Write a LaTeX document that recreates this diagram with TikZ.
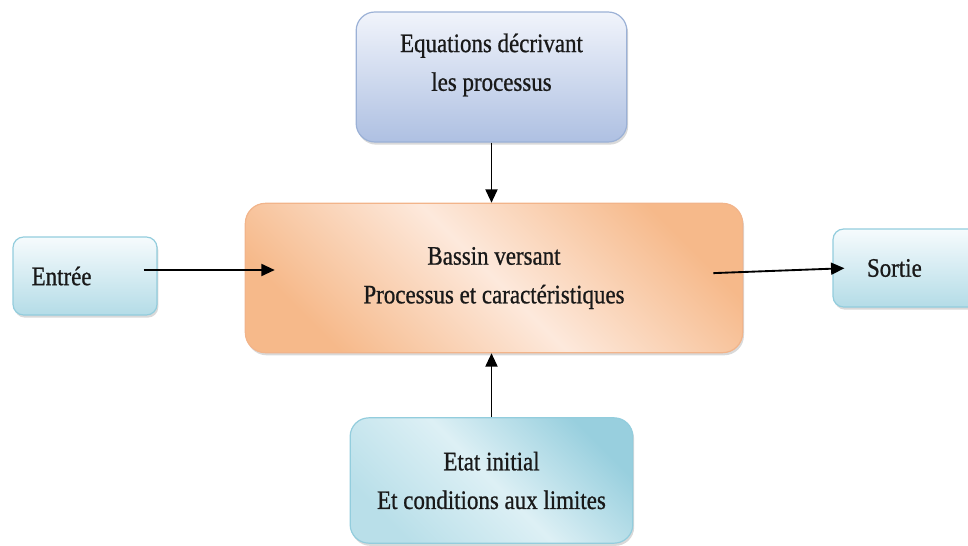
\documentclass[tikz,border=0pt]{standalone}
\usepackage{fontspec}
\setmainfont[FakeStretch=0.86, FakeBold=0.8]{Liberation Serif}
\usetikzlibrary{arrows.meta,shadows}

\definecolor{eqtop}{HTML}{F1F4FB}
\definecolor{eqbot}{HTML}{AEC0E2}
\definecolor{eqline}{HTML}{9BB1D6}
\definecolor{bvedge}{HTML}{F6B98A}
\definecolor{bvmid}{HTML}{FDE9DC}
\definecolor{bvline}{HTML}{F2B48A}
\definecolor{iotop}{HTML}{F6FBFD}
\definecolor{iobot}{HTML}{B4DCE7}
\definecolor{ioline}{HTML}{93CDDD}
\definecolor{cilight}{HTML}{B9DFE9}
\definecolor{cidark}{HTML}{98CFDE}
\definecolor{cimid}{HTML}{DDF0F5}

\tikzset{
  box/.style    = {shape=rectangle, draw, line width=0.9pt,
                   drop shadow={opacity=0.3, shadow xshift=1pt, shadow yshift=-2pt}},
  eqbox/.style  = {box, rounded corners=14pt, draw=eqline,
                   top color=eqtop, bottom color=eqbot,
                   minimum width=203pt, minimum height=97.5pt},
  bvbox/.style  = {box, rounded corners=15pt, draw=bvline, align=center,
                   left color=bvedge, right color=bvedge, middle color=bvmid,
                   shading angle=135,
                   minimum width=373pt, minimum height=112pt},
  iobox/.style  = {box, rounded corners=8pt, draw=ioline, align=left,
                   top color=iotop, bottom color=iobot,
                   minimum height=58.5pt},
  cibox/.style  = {box, rounded corners=14pt, draw=ioline, align=center,
                   left color=cilight, right color=cidark, middle color=cimid,
                   shading angle=135,
                   minimum width=212pt, minimum height=94pt},
  txt/.style    = {align=center},
  flow/.style   = {-{Triangle[length=10pt,width=9pt]}, line width=1.4pt}
}

\begin{document}
\begin{tikzpicture}
  [
    x                 = 0.75pt,
    y                 = -0.75pt,
    every node/.style = {font=\fontsize{20}{29}\selectfont, text=black!90}
  ]
  \clip (0,0) rectangle (968,546);

  % boxes
  \node [eqbox] (eq) at (491.5,77) {};
  \node [txt] (eqtext) at (491.5,65) {Equations décrivant\\les processus};
  \node [bvbox] (bassin) at (494,278) {Bassin versant\\Processus et caractéristiques};
  \node [iobox, text width=80pt, inner xsep=14pt] (entree) at (85,276) {Entrée};
  \node [iobox, text width=61.5pt, inner xsep=25.5pt] (sortie) at (908,268) {Sortie};
  \node [cibox] (etat) at (491.5,480.5) {Etat initial\\Et conditions aux limites};

  % arrows
  \draw [flow, shorten <=-10.5pt, shorten >=-22.5pt]
    ([yshift=4.5pt]entree.east) -- ([yshift=6pt]bassin.west);
  \draw [flow, shorten <=-22.5pt, shorten >=-9pt]
    ([yshift=4.5pt]bassin.east) -- ([yshift=-0.5pt]sortie.west);
  \draw [flow] (eq.south) -- (eq.south |- bassin.north);
  \draw [flow] (etat.north) -- (etat.north |- bassin.south);
\end{tikzpicture}
\end{document}
